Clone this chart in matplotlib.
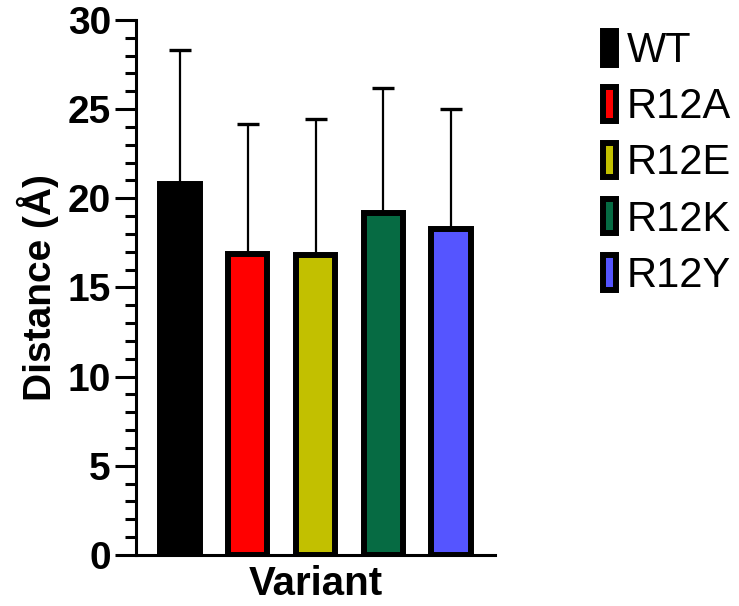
import matplotlib.pyplot as plt
from matplotlib.patches import Patch
from matplotlib.ticker import MultipleLocator

# distance per variant, mean and upper SD
variants = ["WT", "R12A", "R12E", "R12K", "R12Y"]
means = [20.8, 16.9, 16.8, 19.15, 18.3]
upper = [28.3, 24.15, 24.45, 26.2, 25.0]
colors = ["#000000", "#ff0000", "#c2c000", "#066b43", "#5555ff"]

plt.rcParams['font.family'] = ['Liberation Sans', 'DejaVu Sans']

fig = plt.figure(figsize=(7.39, 6.06), dpi=100)
ax = fig.add_axes([0.184, 0.0842, 0.486, 0.883])

x = list(range(len(variants)))
err = [[0] * len(means), [u - m for u, m in zip(upper, means)]]

ax.errorbar(x, means, yerr=err, fmt="none", ecolor="black",
            elinewidth=1.6, capsize=8, capthick=2.4, zorder=1)
ax.bar(x, means, width=0.58, color=colors, edgecolor="black",
       linewidth=4.3, zorder=2)

ax.set_xlim(-0.65, 4.65)
ax.set_ylim(0, 30)
ax.yaxis.set_major_locator(MultipleLocator(5))
ax.yaxis.set_minor_locator(MultipleLocator(1))
ax.set_xticks([])

for s in ["top", "right"]:
    ax.spines[s].set_visible(False)
for s in ["left", "bottom"]:
    ax.spines[s].set_linewidth(2.2)

ax.tick_params(axis="y", which="major", length=15, width=2.2,
               labelsize=28, pad=3)
ax.tick_params(axis="y", which="minor", length=8, width=2.2)
for lab in ax.get_yticklabels():
    lab.set_fontweight("bold")

ax.set_ylabel("Distance (Å)", fontsize=28, fontweight="bold", labelpad=6)
ax.set_xlabel("Variant", fontsize=29, fontweight="bold", labelpad=7)

handles = [Patch(facecolor=c, edgecolor="black", linewidth=4.3) for c in colors]
fig.legend(handles, variants, loc="upper left", bbox_to_anchor=(0.793, 0.977),
           frameon=False, fontsize=30, handlelength=0.32, handleheight=0.9,
           handletextpad=0.25, labelspacing=0.37, borderaxespad=0)

fig.savefig("out.png", dpi=100)
